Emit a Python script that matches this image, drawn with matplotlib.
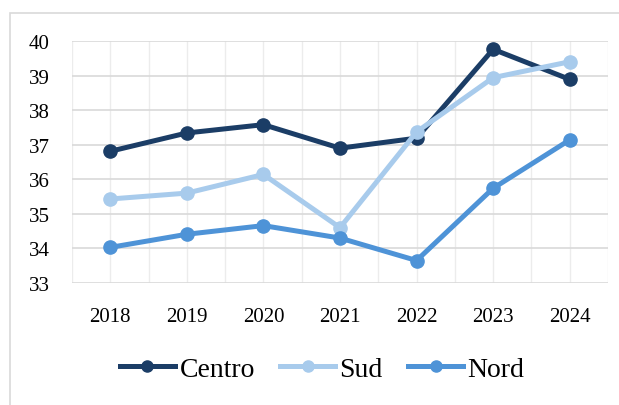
import matplotlib
matplotlib.use("Agg")
import matplotlib.pyplot as plt
from matplotlib.patches import Rectangle
from matplotlib.ticker import MultipleLocator

years = ["2018", "2019", "2020", "2021", "2022", "2023", "2024"]
centro = [36.81, 37.34, 37.58, 36.90, 37.19, 39.76, 38.89]
sud = [35.43, 35.60, 36.14, 34.60, 37.37, 38.94, 39.40]
nord = [34.03, 34.41, 34.66, 34.30, 33.65, 35.74, 37.14]

plt.rcParams['font.family'] = ['Liberation Serif', 'DejaVu Serif']

fig = plt.figure(figsize=(6.19, 4.06), dpi=100)
fig.patches.append(Rectangle((10/619, -0.01), 1.0, 1 - 14/406 + 0.01,
                             transform=fig.transFigure, fill=False,
                             edgecolor='#d9d9d9', linewidth=1.2))
ax = fig.add_axes([72/619, 1 - 284/406, (608-72)/619, (284-42)/406])

x = list(range(len(years)))
ax.plot(x, centro, color='#1b3d66', lw=3.6, marker='o', ms=9.5, label='Centro', zorder=3)
ax.plot(x, sud, color='#a8cbec', lw=3.6, marker='o', ms=9.5, label='Sud', zorder=3)
ax.plot(x, nord, color='#4e93d7', lw=3.6, marker='o', ms=9.5, label='Nord', zorder=3)

ax.set_xlim(-0.5, len(years) - 0.5)
ax.set_ylim(33, 40)
ax.set_xticks(x)
ax.set_xticklabels(years)
ax.xaxis.set_minor_locator(MultipleLocator(0.5))
ax.yaxis.set_major_locator(MultipleLocator(1))
ax.grid(axis='y', which='major', color='#d9d9d9', lw=1.2, zorder=0)
ax.grid(axis='x', which='both', color='#ececec', lw=1.0, zorder=0)
for s in ax.spines.values():
    s.set_visible(False)
ax.tick_params(axis='both', which='both', length=0, labelsize=15, colors='black')
ax.tick_params(axis='x', pad=17)
ax.tick_params(axis='y', pad=16)

leg = fig.legend(loc='center', bbox_to_anchor=(322/619, 1 - 370/406), ncol=3,
                 frameon=False, fontsize=20, handlelength=2.0, handletextpad=0.15,
                 columnspacing=0.9)
for h in leg.legend_handles:
    h.set_markersize(8)

fig.savefig('out.png', dpi=100)
